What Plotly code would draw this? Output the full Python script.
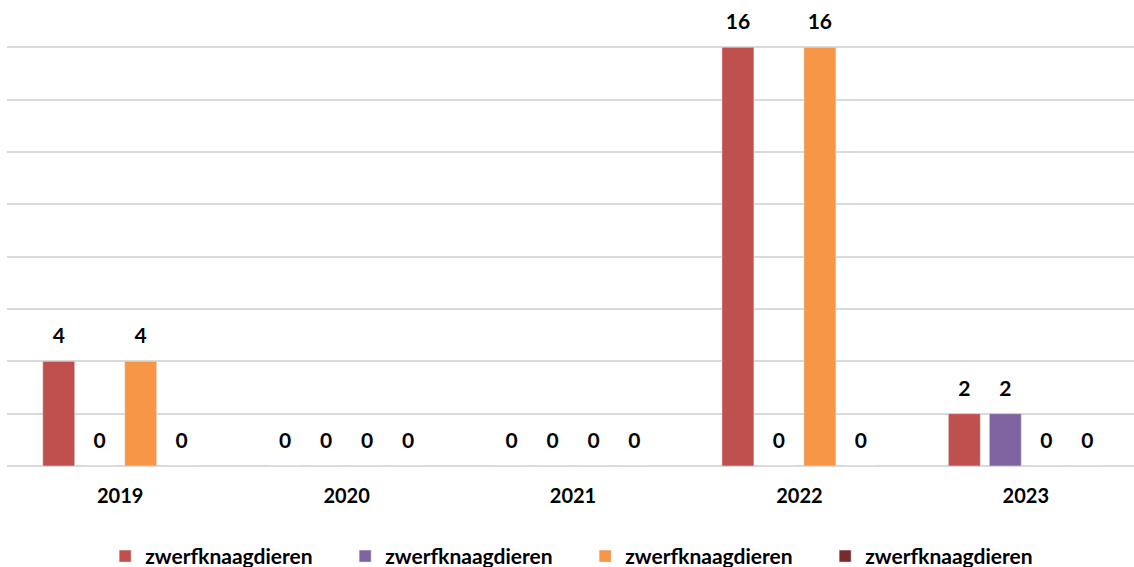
import plotly.graph_objects as go

categories = ["2019", "2020", "2021", "2022", "2023"]
series_names = ["zwerfknaagdieren", "zwerfknaagdieren", "zwerfknaagdieren", "zwerfknaagdieren"]
s1 = [4, 0, 0, 16, 2]
s2 = [0, 0, 0, 0, 2]
s3 = [4, 0, 0, 16, 0]
s4 = [0, 0, 0, 0, 0]
colors = ["#C0504D", "#8064A2", "#F79646", "#772C2A"]

FONT = "Lato"
fig = go.Figure()
for name, vals, col in zip(series_names, [s1, s2, s3, s4], colors):
    fig.add_trace(go.Bar(
        x=categories, y=vals, name=f"<b>{name}</b>", marker_color=col,
        text=[f"<span style='font-size:21px'><b>{v}</b></span><br> " for v in vals],
        textposition="outside", cliponaxis=False,
        textfont=dict(family=FONT, size=10, color="#000000"),
    ))

fig.update_layout(
    width=1134, height=567,
    margin=dict(l=7, r=0, t=42, b=101, autoexpand=False),
    paper_bgcolor="white", plot_bgcolor="white",
    barmode="group", bargap=0.276, bargroupgap=0.22,
    showlegend=True,
    legend=dict(orientation="h", x=0.513, xanchor="center", y=-0.165, yanchor="top",
                font=dict(family=FONT, size=21, color="#000000"),
                entrywidth=195, itemwidth=30, tracegroupgap=0),
)
fig.update_xaxes(range=[-0.5, 4.478], showgrid=False, showline=False, ticks="",
                 tickfont=dict(family=FONT, size=20, color="#000000"),
                 tickprefix="<b>", ticksuffix="</b>", ticklabelstandoff=16, automargin=False)
fig.update_yaxes(range=[0, 16.2], tickvals=[2, 4, 6, 8, 10, 12, 14, 16], showticklabels=False,
                 gridcolor="#D9D9D9", gridwidth=1.5, zeroline=True, zerolinecolor="#D9D9D9",
                 zerolinewidth=1.5, showline=False, automargin=False)
fig.write_html("out.html", config={"displayModeBar": False},
               post_script="document.body.style.margin='0px';")
